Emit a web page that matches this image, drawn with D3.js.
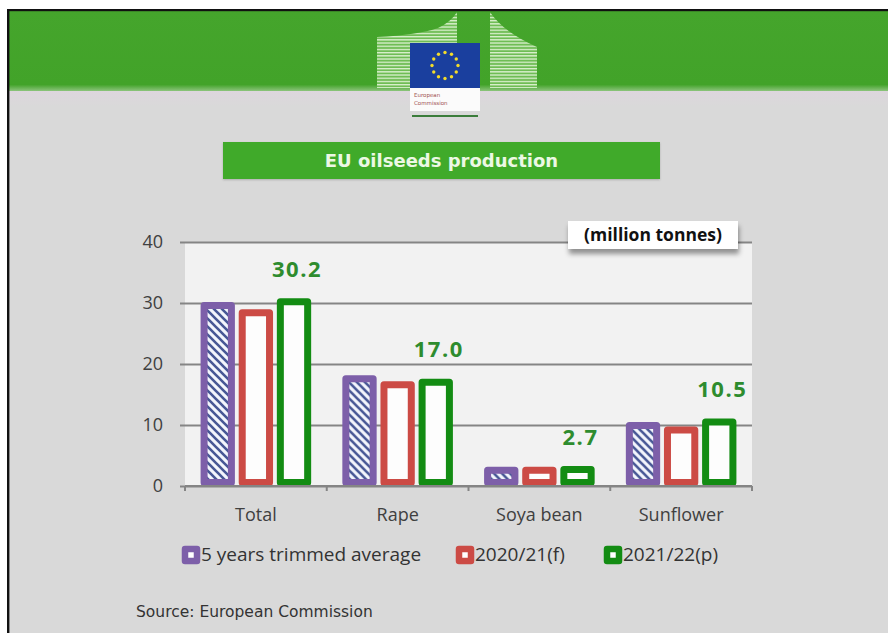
<!DOCTYPE html>
<html>
<head>
<meta charset="utf-8">
<script src="https://cdn.jsdelivr.net/npm/d3@7"></script>
<style>
  body { margin: 0; background: #fff; }
  svg { display: block; }
</style>
</head>
<body>
<svg id="chart" width="888" height="633"></svg>
<script>
// ---- data (million tonnes) ----
const categories = ["Total", "Rape", "Soya bean", "Sunflower"];
const seriesNames = ["5 years trimmed average", "2020/21(f)", "2021/22(p)"];
const avg5y = [29.6, 17.6, 2.6, 9.9];
const y2020 = [28.4, 16.6, 2.6, 9.2];
const y2021 = [30.2, 17.0, 2.7, 10.5];
const yTicks = [0, 10, 20, 30, 40];
const unitLabel = "(million tonnes)";
const chartTitle = "EU oilseeds production";
const sourceText = "Source: European Commission";

const seriesValues = [avg5y, y2020, y2021];
const seriesColors = ["#7d5fa9", "#cc4b45", "#138c13"];

const svg = d3.select("#chart");
const W = 888, H = 633;

// ---- page background & frame ----
svg.append("rect").attr("width", W).attr("height", H).attr("fill", "#fff");
svg.append("rect").attr("x", 9).attr("y", 11).attr("width", W - 9).attr("height", H - 11).attr("fill", "#d9d9d9");

const defs = svg.append("defs");

const bandGrad = defs.append("linearGradient").attr("id", "band").attr("x1", 0).attr("x2", 0).attr("y1", 0).attr("y2", 1);
bandGrad.append("stop").attr("offset", "0%").attr("stop-color", "#45a52c");
bandGrad.append("stop").attr("offset", "92%").attr("stop-color", "#42a329");
bandGrad.append("stop").attr("offset", "100%").attr("stop-color", "#8cc47c");

const underGrad = defs.append("linearGradient").attr("id", "under").attr("x1", 0).attr("x2", 0).attr("y1", 0).attr("y2", 1);
underGrad.append("stop").attr("offset", "0%").attr("stop-color", "#ddd6dd");
underGrad.append("stop").attr("offset", "100%").attr("stop-color", "#d9d9d9");

svg.append("rect").attr("x", 9).attr("y", 11).attr("width", W - 9).attr("height", 80).attr("fill", "url(#band)");
svg.append("rect").attr("x", 9).attr("y", 91).attr("width", W - 9).attr("height", 15).attr("fill", "url(#under)");

// black frame lines (top and left)
svg.append("rect").attr("x", 7).attr("y", 9).attr("width", W - 7).attr("height", 2.2).attr("fill", "#111");
svg.append("rect").attr("x", 7).attr("y", 9).attr("width", 2.4).attr("height", H - 9).attr("fill", "#111");

// ---- Commission logo ----
const hl = defs.append("pattern").attr("id", "hlines").attr("patternUnits", "userSpaceOnUse")
  .attr("width", 6).attr("height", 3.2);
hl.append("rect").attr("width", 6).attr("height", 3.2).attr("fill", "#6fbd55");
hl.append("rect").attr("y", 0.8).attr("width", 6).attr("height", 1.3).attr("fill", "#dcf0d0");

const logo = svg.append("g");
logo.append("path").attr("d", "M377,88 L377,37 Q418,35 438,28 Q451,22 457,12 L457,88 Z").attr("fill", "url(#hlines)");
logo.append("path").attr("d", "M490,12 Q503,32 537,47 L537,88 L490,88 Z").attr("fill", "url(#hlines)");
logo.append("rect").attr("x", 410).attr("y", 43).attr("width", 70).attr("height", 45).attr("fill", "#1a3f9e");
const starCx = 445, starCy = 65.5, starR = 13;
logo.selectAll("circle.star").data(d3.range(12)).join("circle")
  .attr("class", "star")
  .attr("cx", i => starCx + starR * Math.cos(i * Math.PI / 6))
  .attr("cy", i => starCy + starR * Math.sin(i * Math.PI / 6))
  .attr("r", 1.7).attr("fill", "#f3dc2a");
logo.append("rect").attr("x", 410).attr("y", 88).attr("width", 70).attr("height", 23).attr("fill", "#fbfbfb");
logo.append("text").attr("x", 414).attr("y", 97).text("European")
  .attr("font-family", "DejaVu Sans").attr("font-size", 5.5).attr("fill", "#a05050");
logo.append("text").attr("x", 414).attr("y", 105).text("Commission")
  .attr("font-family", "DejaVu Sans").attr("font-size", 5.5).attr("fill", "#a05050");
logo.append("rect").attr("x", 412).attr("y", 115).attr("width", 66).attr("height", 2).attr("fill", "#3b7d3b");

// ---- title box ----
const shadow = defs.append("filter").attr("id", "shadow").attr("x", "-10%").attr("y", "-20%").attr("width", "130%").attr("height", "180%");
shadow.append("feDropShadow").attr("dx", 1).attr("dy", 5).attr("stdDeviation", 2.5)
  .attr("flood-color", "#000").attr("flood-opacity", 0.4);
const softShadow = defs.append("filter").attr("id", "softShadow").attr("x", "-5%").attr("y", "-20%").attr("width", "110%").attr("height", "150%");
softShadow.append("feDropShadow").attr("dx", 0).attr("dy", 1).attr("stdDeviation", 1.2)
  .attr("flood-color", "#000").attr("flood-opacity", 0.2);

svg.append("rect").attr("x", 223).attr("y", 142).attr("width", 437).attr("height", 37)
  .attr("fill", "#40aa2c").attr("filter", "url(#softShadow)");
svg.append("text").attr("x", 441.5).attr("y", 167).attr("text-anchor", "middle")
  .attr("font-family", "DejaVu Sans").attr("font-weight", "bold").attr("font-size", 18)
  .attr("fill", "#ecf8e4").text(chartTitle);

// ---- chart scales ----
const plot = { left: 185, right: 752, top: 242, bottom: 486 };
const y = d3.scaleLinear().domain([0, 40]).range([plot.bottom, plot.top]);
const x0 = d3.scaleBand().domain(categories).range([plot.left, plot.right]).padding(0);
const x1 = d3.scaleBand().domain(seriesNames)
  .range([x0.bandwidth() * 0.11, x0.bandwidth() * 0.89]).paddingInner(0.1);

// plot background
svg.append("rect").attr("x", plot.left).attr("y", plot.top)
  .attr("width", plot.right - plot.left).attr("height", plot.bottom - plot.top).attr("fill", "#f2f2f2");

// gridlines with y labels
const yAxis = d3.axisLeft(y).tickValues(yTicks).tickSizeInner(-(plot.right - plot.left + 5)).tickSizeOuter(0).tickPadding(22);
const gy = svg.append("g").attr("transform", `translate(${plot.left - 5},0)`).call(yAxis);
gy.select(".domain").remove();
gy.selectAll(".tick line").attr("stroke", "#858585").attr("stroke-width", 2);
gy.selectAll(".tick text").attr("font-family", "Open Sans").attr("font-size", 18).attr("fill", "#404040")
  .attr("x", -17);

// hatch for the 5-year average bars
const hatch = defs.append("pattern").attr("id", "hatch").attr("patternUnits", "userSpaceOnUse")
  .attr("width", 8).attr("height", 8);
hatch.append("rect").attr("width", 8).attr("height", 8).attr("fill", "#f3f5fc");
hatch.append("path").attr("d", "M-1,-1 L9,9 M-1,7 L1,9 M7,-1 L9,1")
  .attr("stroke", "#475795").attr("stroke-width", 2.6);

// ---- bars ----
const sw = 7;
const rows = categories.map((c, i) => ({
  cat: c,
  vals: seriesNames.map((s, j) => ({ s, j, v: seriesValues[j][i] }))
}));
const groups = svg.append("g").selectAll("g").data(rows).join("g")
  .attr("transform", d => `translate(${x0(d.cat)},0)`);
groups.selectAll("rect").data(d => d.vals).join("rect")
  .attr("x", d => x1(d.s) + sw / 2)
  .attr("width", x1.bandwidth() - sw)
  .attr("y", d => y(d.v))
  .attr("height", d => y(0) - y(d.v) - sw / 2)
  .attr("fill", d => d.j === 0 ? "url(#hatch)" : "#fdfdfd")
  .attr("stroke", d => seriesColors[d.j])
  .attr("stroke-width", sw)
  .attr("stroke-linejoin", "round");

// category axis
svg.append("line").attr("x1", plot.left).attr("x2", plot.right).attr("y1", y(0)).attr("y2", y(0))
  .attr("stroke", "#858585").attr("stroke-width", 2);
const boundaries = categories.map(c => x0(c)).concat([x0(categories[categories.length - 1]) + x0.bandwidth()]);
svg.append("g").selectAll("line").data(boundaries).join("line")
  .attr("x1", d => d).attr("x2", d => d).attr("y1", y(0)).attr("y2", y(0) + 5)
  .attr("stroke", "#858585").attr("stroke-width", 2);
const xAxis = d3.axisBottom(x0).tickSize(0).tickPadding(0);
const gx = svg.append("g").attr("transform", `translate(0,${y(0)})`).call(xAxis);
gx.select(".domain").remove();
gx.selectAll(".tick text").attr("font-family", "Open Sans").attr("font-size", 18).attr("fill", "#404040")
  .attr("dy", null).attr("y", 35);

// value labels on the latest season
svg.append("g").selectAll("text").data(categories).join("text")
  .attr("x", (c, i) => x0(c) + x1(seriesNames[2]) + x1.bandwidth() / 2 + 3)
  .attr("y", (c, i) => y(y2021[i]) - 25)
  .attr("text-anchor", "middle")
  .attr("font-family", "Open Sans").attr("font-weight", "bold").attr("font-size", 22)
  .attr("letter-spacing", 1.5)
  .attr("fill", "#2e8c2e")
  .text((c, i) => d3.format(".1f")(y2021[i]));

// unit box
svg.append("rect").attr("x", 568).attr("y", 221).attr("width", 170).attr("height", 28)
  .attr("fill", "#fff").attr("filter", "url(#shadow)");
svg.append("text").attr("x", 653).attr("y", 241).attr("text-anchor", "middle")
  .attr("font-family", "Open Sans").attr("font-weight", "bold").attr("font-size", 17.5)
  .attr("fill", "#111").text(unitLabel);

// ---- legend ----
const legendX = [182, 456, 604];
const legend = svg.append("g").selectAll("g").data(seriesNames).join("g")
  .attr("transform", (d, i) => `translate(${legendX[i]},546)`);
legend.append("rect").attr("x", 3).attr("y", 3).attr("width", 12).attr("height", 12)
  .attr("fill", "#fff").attr("stroke", (d, i) => seriesColors[i]).attr("stroke-width", 6.5)
  .attr("stroke-linejoin", "round");
legend.append("text").attr("x", 19).attr("y", 15)
  .attr("font-family", "Open Sans").attr("font-size", 19).attr("fill", "#333")
  .text(d => d);

// ---- source ----
svg.append("text").attr("x", 136).attr("y", 617)
  .attr("font-family", "DejaVu Sans").attr("font-size", 15.5).attr("fill", "#333")
  .text(sourceText);
</script>
</body>
</html>
